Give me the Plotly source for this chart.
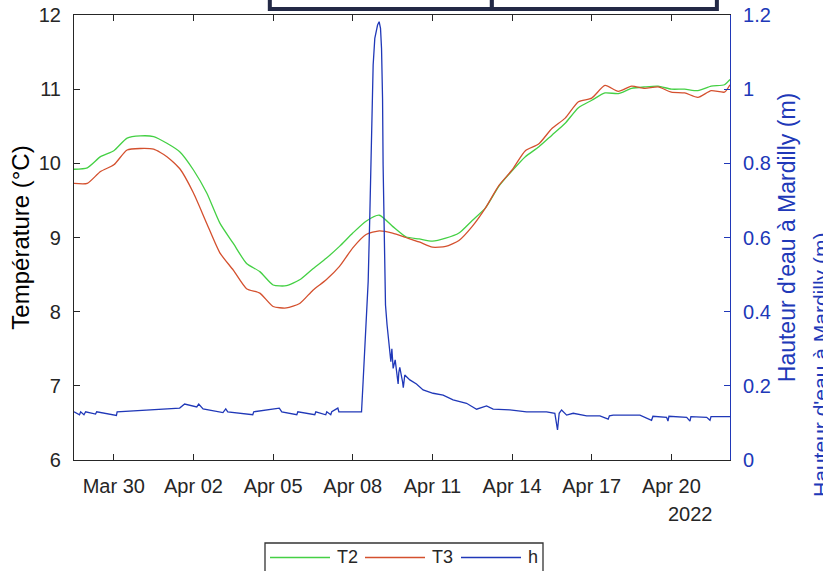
import pandas as pd
import plotly.graph_objects as go

# --- Températures (°C), relevé toutes les 12 h à partir du 28/03/2022 12:00 ---
t_start = "2022-03-28 12:00"
T2 = [9.92, 9.94, 10.09, 10.17, 10.34, 10.37, 10.36, 10.27, 10.15, 9.91,
      9.60, 9.19, 8.92, 8.65, 8.54, 8.36, 8.35, 8.43, 8.58, 8.72,
      8.88, 9.06, 9.22, 9.30, 9.15, 9.01, 8.98, 8.95, 8.99, 9.06,
      9.23, 9.40, 9.69, 9.90, 10.09, 10.22, 10.38, 10.54, 10.75, 10.85,
      10.95, 10.94, 11.01, 11.03, 11.04, 11.00, 11.00, 10.98, 11.04, 11.06]
T3 = [9.73, 9.73, 9.89, 9.98, 10.18, 10.20, 10.19, 10.09, 9.92, 9.60,
      9.19, 8.79, 8.56, 8.31, 8.25, 8.07, 8.05, 8.11, 8.29, 8.43,
      8.61, 8.86, 9.04, 9.09, 9.06, 9.00, 8.94, 8.87, 8.88, 8.96,
      9.15, 9.40, 9.70, 9.91, 10.17, 10.26, 10.47, 10.61, 10.83, 10.88,
      11.05, 10.97, 11.04, 11.01, 11.03, 10.96, 10.95, 10.89, 10.98, 10.96]
T_last_time = "2022-04-22 05:00"
T2_last = 11.13
T3_last = 11.06

# --- Hauteur d'eau à Mardilly (m) ---
h_time = [
    "2022-03-28 12:00", "2022-03-28 17:00", "2022-03-28 18:00", "2022-03-28 21:00",
    "2022-03-28 22:30", "2022-03-29 07:30", "2022-03-29 08:30", "2022-03-30 02:20",
    "2022-03-30 03:00", "2022-04-01 11:30", "2022-04-01 16:00", "2022-04-02 03:00",
    "2022-04-02 04:45", "2022-04-02 08:40", "2022-04-03 02:40", "2022-04-03 05:10",
    "2022-04-03 07:00", "2022-04-04 05:35", "2022-04-04 06:30", "2022-04-05 05:35",
    "2022-04-05 07:50", "2022-04-05 21:25", "2022-04-05 22:20", "2022-04-06 13:40",
    "2022-04-06 14:35", "2022-04-06 23:35", "2022-04-07 00:30", "2022-04-07 04:05",
    "2022-04-07 05:00", "2022-04-07 10:30", "2022-04-07 11:25", "2022-04-08 07:55",
    "2022-04-08 09:20", "2022-04-08 10:55", "2022-04-08 12:25", "2022-04-08 13:55",
    "2022-04-08 15:25", "2022-04-08 16:55", "2022-04-08 18:25", "2022-04-08 19:55",
    "2022-04-08 22:25", "2022-04-08 23:50", "2022-04-09 01:05", "2022-04-09 02:00",
    "2022-04-09 02:55", "2022-04-09 03:25", "2022-04-09 04:20", "2022-04-09 05:35",
    "2022-04-09 07:00", "2022-04-09 08:55", "2022-04-09 10:25", "2022-04-09 11:20",
    "2022-04-09 12:30", "2022-04-09 14:20", "2022-04-09 15:30", "2022-04-09 17:00",
    "2022-04-09 17:35", "2022-04-09 18:30", "2022-04-09 21:00", "2022-04-09 21:40",
    "2022-04-09 23:00", "2022-04-10 03:35", "2022-04-10 09:35", "2022-04-10 15:35",
    "2022-04-11 00:35", "2022-04-11 09:40", "2022-04-11 18:40", "2022-04-12 06:50",
    "2022-04-12 15:55", "2022-04-13 00:55", "2022-04-13 06:55", "2022-04-13 22:00",
    "2022-04-14 13:05", "2022-04-15 07:10", "2022-04-15 14:40", "2022-04-15 16:10",
    "2022-04-15 17:05", "2022-04-15 18:35", "2022-04-15 20:45", "2022-04-16 01:20",
    "2022-04-16 07:15", "2022-04-16 19:25", "2022-04-17 07:25", "2022-04-17 14:55",
    "2022-04-17 16:00", "2022-04-17 19:25", "2022-04-18 19:35", "2022-04-19 06:05",
    "2022-04-19 07:20", "2022-04-19 19:40", "2022-04-19 20:55", "2022-04-19 21:50",
    "2022-04-20 13:50", "2022-04-20 16:50", "2022-04-20 17:40", "2022-04-21 07:55",
    "2022-04-21 10:55", "2022-04-21 11:50", "2022-04-22 05:00",
]
h_val = [
    0.130, 0.122, 0.130, 0.122, 0.130, 0.124, 0.130, 0.120,
    0.130, 0.140, 0.151, 0.143, 0.151, 0.138, 0.128, 0.138,
    0.130, 0.122, 0.130, 0.140, 0.130, 0.122, 0.130, 0.122,
    0.130, 0.122, 0.130, 0.122, 0.130, 0.140, 0.130, 0.130,
    0.211, 0.301, 0.373, 0.481, 0.661, 0.885, 1.065, 1.137,
    1.173, 1.182, 1.164, 1.110, 0.975, 0.796, 0.571, 0.418,
    0.364, 0.310, 0.265, 0.300, 0.247, 0.270, 0.238, 0.205,
    0.235, 0.250, 0.211, 0.195, 0.229, 0.216, 0.205, 0.189,
    0.180, 0.175, 0.162, 0.153, 0.137, 0.146, 0.137, 0.135,
    0.130, 0.130, 0.126, 0.103, 0.081, 0.126, 0.135, 0.121,
    0.126, 0.119, 0.119, 0.110, 0.119, 0.121, 0.121, 0.107,
    0.118, 0.115, 0.105, 0.118, 0.115, 0.105, 0.117, 0.115,
    0.107, 0.117, 0.117,
]

# --- Axes ---
x_range = ["2022-03-28 12:00", "2022-04-22 05:00"]
x_tickvals = ["2022-03-30", "2022-04-02", "2022-04-05", "2022-04-08",
              "2022-04-11", "2022-04-14", "2022-04-17", "2022-04-20"]
x_ticktext = ["Mar 30", "Apr 02", "Apr 05", "Apr 08",
              "Apr 11", "Apr 14", "Apr 17", "Apr 20"]
year_label = "2022"
series_names = ["T2", "T3", "h"]
series_colors = ["#44d044", "#d4502e", "#2038b8"]
left_title = "Température (°C)"
right_title = "Hauteur d'eau à Mardilly (m)"

t_time = list(pd.date_range(t_start, periods=len(T2), freq="12h")) + [pd.Timestamp(T_last_time)]
T2_all = T2 + [T2_last]
T3_all = T3 + [T3_last]

AX = "#262626"
BLUE = series_colors[2]
FONT = "Liberation Sans, Arial, sans-serif"

fig = go.Figure()
fig.add_trace(go.Scatter(x=t_time, y=T2_all, mode="lines", name=series_names[0],
                         line=dict(color=series_colors[0], width=1.3, shape="spline", smoothing=0.6)))
fig.add_trace(go.Scatter(x=t_time, y=T3_all, mode="lines", name=series_names[1],
                         line=dict(color=series_colors[1], width=1.3, shape="spline", smoothing=0.6)))
fig.add_trace(go.Scatter(x=pd.to_datetime(h_time), y=h_val, mode="lines", name=series_names[2],
                         yaxis="y2", line=dict(color=BLUE, width=1.3)))

fig.update_layout(
    width=823, height=571,
    margin=dict(l=74, r=93, t=15, b=111, autoexpand=False),
    paper_bgcolor="white", plot_bgcolor="white",
    showlegend=False,
    font=dict(family=FONT, color=AX, size=20),
    xaxis=dict(type="date", range=x_range, tickvals=x_tickvals, ticktext=x_ticktext,
               automargin=False,
               showgrid=False, zeroline=False, showline=True, linecolor=AX, linewidth=1.2,
               mirror="ticks", ticks="inside", ticklen=6, tickcolor=AX,
               tickfont=dict(size=20, color=AX), ticklabelstandoff=8),
    yaxis=dict(range=[6, 12], dtick=1, showgrid=False, zeroline=False, showline=True,
               automargin=False,
               linecolor=AX, linewidth=1.2, ticks="inside", ticklen=6, tickcolor=AX,
               tickfont=dict(size=20, color=AX), ticklabelstandoff=8,
               title=dict(text=left_title, font=dict(size=24, color="#000000"), standoff=2)),
    yaxis2=dict(range=[0, 1.2], dtick=0.2, overlaying="y", side="right", showgrid=False,
                automargin=False,
                zeroline=False, showline=True, linecolor=BLUE, linewidth=1.2, ticks="inside",
                ticklen=6, tickcolor=BLUE, tickfont=dict(size=20, color=BLUE),
                ticklabelstandoff=8,
                title=dict(text=right_title, font=dict(size=23, color=BLUE), standoff=8)),
)

# year under the last date tick
fig.add_annotation(text=year_label, xref="paper", yref="paper", x=0.9405, y=-0.121,
                   showarrow=False, font=dict(size=20, color=AX), xanchor="center", yanchor="middle")

# second copy of the right-hand label, running off the page edge
fig.add_annotation(text=right_title, xref="paper", yref="paper", x=1.118, y=0.2135,
                   textangle=-90, showarrow=False, xanchor="left", yanchor="middle",
                   font=dict(size=21, color=BLUE))

# title frame at the top edge
box = dict(type="rect", xref="paper", yref="paper", line=dict(color="#232946", width=4),
           fillcolor="white", layer="above")
fig.add_shape(**box, x0=0.2985, x1=0.637, y0=1.0135, y1=1.2)
fig.add_shape(**box, x0=0.637, x1=0.980, y0=1.0135, y1=1.2)

# legend frame at the bottom edge
def px_x(p):
    return (p - 74) / 656

def px_y(p):
    return (460 - p) / 445

fig.add_shape(type="rect", xref="paper", yref="paper", x0=px_x(265), x1=px_x(543),
              y0=px_y(600), y1=px_y(543), line=dict(color="#333333", width=1.3),
              fillcolor="white")
legend_line_x = [(270, 330), (365, 425), (461, 521)]
legend_text_x = [335, 430, 526]
for name, color, (a, b), tx in zip(series_names, series_colors, legend_line_x, legend_text_x):
    fig.add_shape(type="line", xref="paper", yref="paper", x0=px_x(a), x1=px_x(b),
                  y0=px_y(557.5), y1=px_y(557.5), line=dict(color=color, width=1.5))
    fig.add_annotation(text=name, xref="paper", yref="paper", x=px_x(tx), y=px_y(557),
                       showarrow=False, xanchor="left", yanchor="middle",
                       font=dict(size=18, color=AX))

fig.write_html("out.html")
